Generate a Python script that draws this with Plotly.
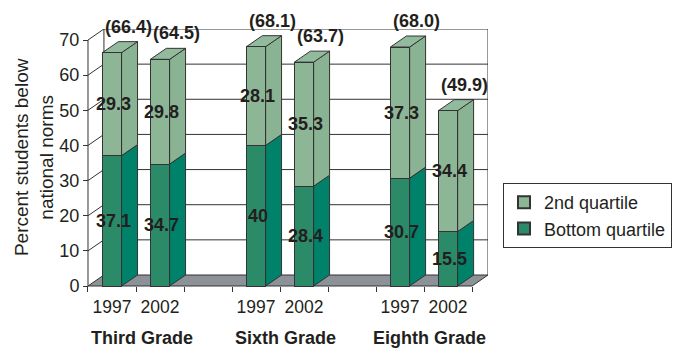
import plotly.graph_objects as go

# ---------------- data ----------------
grades = ["Third Grade", "Sixth Grade", "Eighth Grade"]
years = ["1997", "2002"]
bottom_quartile = [37.1, 34.7, 40.0, 28.4, 30.7, 15.5]
second_quartile = [29.3, 29.8, 28.1, 35.3, 37.3, 34.4]
totals = [66.4, 64.5, 68.1, 63.7, 68.0, 49.9]
y_ticks = [0, 10, 20, 30, 40, 50, 60, 70]
y_title = "Percent students below<br>national norms"

# ---------------- styling / geometry ----------------
FONT = "Liberation Sans, Arial, sans-serif"
TXT = "#231f20"
EDGE = "#333333"
C_BOT = "#2b8a68"
C_BOT_SIDE = "#00826a"
C_SEC = "#8db697"
C_SEC_SIDE = "#8ab393"
C_SEC_TOP = "#92ba9c"
C_FLOOR = "#8c9297"

SLOTS_PER_GROUP = 3
N_SLOTS = SLOTS_PER_GROUP * len(grades) - 1
DX = 0.332   # depth offset in category units
DY = 3.13    # depth offset in value units
BW = 0.40    # bar width
YMAX = max(y_ticks)

centers = [g * SLOTS_PER_GROUP + j + 0.5 for g in range(len(grades)) for j in range(len(years))]
year_labels = [y for _ in grades for y in years]


def poly(pts):
    return "M " + " L ".join(f"{x},{y}" for x, y in pts) + " Z"


shapes = []
# floor
shapes.append(dict(type="path", layer="below", xref="x", yref="y",
                   path=poly([(0, 0), (N_SLOTS, 0), (N_SLOTS + DX, DY), (DX, DY)]),
                   fillcolor=C_FLOOR, line=dict(color=EDGE, width=1)))
# back wall and side wall gridlines
for v in y_ticks[1:]:
    shapes.append(dict(type="line", layer="below", xref="x", yref="y",
                       x0=DX, y0=v + DY, x1=N_SLOTS + DX, y1=v + DY,
                       line=dict(color=EDGE, width=1)))
    shapes.append(dict(type="line", layer="below", xref="x", yref="y",
                       x0=0, y0=v, x1=DX, y1=v + DY,
                       line=dict(color=EDGE, width=1)))
# wall edges
for xx in (DX, N_SLOTS + DX):
    shapes.append(dict(type="line", layer="below", xref="x", yref="y",
                       x0=xx, y0=DY, x1=xx, y1=YMAX + DY,
                       line=dict(color=EDGE, width=1)))
# front value axis line
shapes.append(dict(type="line", layer="below", xref="x", yref="y",
                   x0=0, y0=0, x1=0, y1=YMAX, line=dict(color=EDGE, width=1)))

# 3D side / top faces of bars
for c, b, s in zip(centers, bottom_quartile, second_quartile):
    r = c + BW / 2
    l = c - BW / 2
    t = b + s
    shapes.append(dict(type="path", layer="between", xref="x", yref="y",
                       path=poly([(r, 0), (r + DX, DY), (r + DX, b + DY), (r, b)]),
                       fillcolor=C_BOT_SIDE, line=dict(color=EDGE, width=1)))
    shapes.append(dict(type="path", layer="between", xref="x", yref="y",
                       path=poly([(r, b), (r + DX, b + DY), (r + DX, t + DY), (r, t)]),
                       fillcolor=C_SEC_SIDE, line=dict(color=EDGE, width=1)))
    shapes.append(dict(type="path", layer="between", xref="x", yref="y",
                       path=poly([(l, t), (r, t), (r + DX, t + DY), (l + DX, t + DY)]),
                       fillcolor=C_SEC_TOP, line=dict(color=EDGE, width=1)))

fig = go.Figure()
fig.add_trace(go.Bar(x=centers, y=bottom_quartile, width=BW, name="Bottom quartile",
                     marker=dict(color=C_BOT, line=dict(color=EDGE, width=1)),
                     hoverinfo="skip"))
fig.add_trace(go.Bar(x=centers, y=second_quartile, width=BW, name="2nd quartile",
                     marker=dict(color=C_SEC, line=dict(color=EDGE, width=1)),
                     hoverinfo="skip"))

annotations = []
bold = dict(family=FONT, size=18, color=TXT, weight="bold")
for c, b, s, tot in zip(centers, bottom_quartile, second_quartile, totals):
    annotations.append(dict(x=c + 0.04, y=b / 2, xref="x", yref="y", text=f"{b:g}",
                            showarrow=False, font=bold))
    annotations.append(dict(x=c + 0.04, y=b + s / 2, xref="x", yref="y", text=f"{s:g}",
                            showarrow=False, font=bold))
    annotations.append(dict(x=c + 0.35, y=tot, xref="x", yref="y", text=f"({tot:.1f})",
                            showarrow=False, font=bold, yshift=26))
for g, name in enumerate(grades):
    annotations.append(dict(x=g * SLOTS_PER_GROUP + 1 + 0.12, y=-0.193, xref="x", yref="paper",
                            text=name, showarrow=False, font=bold,
                            xanchor="center", yanchor="middle"))
annotations.append(dict(x=-0.129, y=0.506, xref="paper", yref="paper", text=y_title,
                        textangle=-90, showarrow=False,
                        font=dict(family=FONT, size=19, color=TXT),
                        xanchor="center", yanchor="middle"))

W, H = 683, 349
ML, MR, MT, MB = 86, 194, 29, 61
plot_w = W - ML - MR
plot_h = H - MT - MB

fig.update_layout(
    width=W, height=H,
    margin=dict(l=ML, r=MR, t=MT, b=MB, pad=0),
    barmode="stack",
    paper_bgcolor="white", plot_bgcolor="white",
    font=dict(family=FONT, color=TXT),
    shapes=shapes,
    annotations=annotations,
    showlegend=True,
    legend=dict(x=(503 - ML) / plot_w, y=(MT + plot_h - 183) / plot_h,
                xanchor="left", yanchor="top", traceorder="reversed",
                bordercolor=EDGE, borderwidth=1, bgcolor="white",
                font=dict(family=FONT, size=18, color=TXT),
                itemsizing="constant", tracegroupgap=0),
    xaxis=dict(range=[-2 / 48.13, N_SLOTS + DX], anchor="free", position=2 / plot_h,
               showgrid=False, zeroline=False, showline=False,
               tickmode="array", tickvals=centers, ticktext=year_labels,
               ticks="outside", ticklen=5, tickcolor="rgba(0,0,0,0)",
               tickfont=dict(family=FONT, size=17.5, color=TXT),
               minor=dict(tickmode="array", tickvals=list(range(N_SLOTS + 1)),
                          ticks="outside", ticklen=5, tickcolor=EDGE, showgrid=False)),
    yaxis=dict(range=[-0.57, YMAX + DY], anchor="free", position=2 / plot_w,
               showgrid=False, zeroline=False, showline=False,
               tickmode="array", tickvals=y_ticks,
               ticks="outside", ticklen=5, tickcolor=EDGE,
               tickfont=dict(family=FONT, size=18, color=TXT)),
)

fig.write_html("out.html")
